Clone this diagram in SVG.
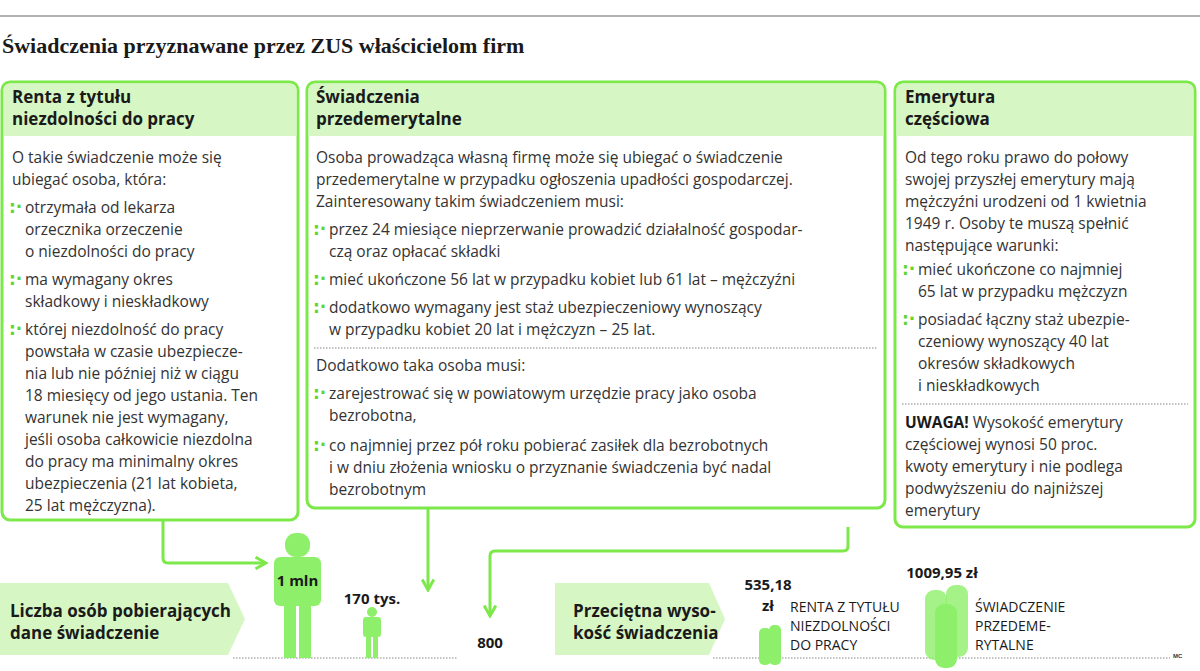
<svg xmlns="http://www.w3.org/2000/svg" width="1200" height="671" viewBox="0 0 1200 671">
<defs>
<style>
.box{fill:#fff;stroke:#7de84a;stroke-width:3}
.hd{fill:#d6f7c4}
.h{font-family:"Open Sans","Liberation Sans",sans-serif;font-weight:bold;font-size:17px;fill:#1a1a1a}
.t{font-family:"Open Sans","Liberation Sans",sans-serif;font-size:15.5px;fill:#333}
.b{fill:#5fd62a;font-family:"DejaVu Sans",sans-serif;font-weight:bold;font-size:17px}
.con{fill:none;stroke:#7de84a;stroke-width:3}
.dot{stroke:#888;stroke-width:1.2;stroke-dasharray:1.5 1.5}
.fig{fill:#8ef06a}
.num{font-family:"Open Sans","Liberation Sans",sans-serif;font-weight:bold;font-size:15px;fill:#1a1a1a}
.lab{font-family:"Open Sans","Liberation Sans",sans-serif;font-size:14px;fill:#1a1a1a}
</style>
<marker id="ah" viewBox="0 0 12 12" refX="10" refY="6" markerWidth="14" markerHeight="14" markerUnits="userSpaceOnUse" orient="auto"><path d="M1,1 L10,6 L1,11" fill="none" stroke="#7de84a" stroke-width="2.5"/></marker>
</defs>
<rect width="1200" height="671" fill="#fff"/>
<line x1="0" y1="16" x2="1200" y2="16" stroke="#999" stroke-width="1.5"/>
<text x="2" y="53" font-family="Liberation Serif,serif" font-weight="bold" font-size="22" fill="#1a1a1a">Świadczenia przyznawane przez ZUS właścicielom firm</text>

<g id="connectors">
<path class="con" d="M163,520 V558 Q163,563 168,563 H266" marker-end="url(#ah)"/>
<path class="con" d="M428,508 V590" marker-end="url(#ah)"/>
<path class="con" d="M848,527 V546 Q848,551 843,551 H495 Q490,551 490,556 V616" marker-end="url(#ah)"/>
</g>

<g id="box1">
<rect class="box" x="2" y="82" width="296" height="438" rx="8"/>
<path class="hd" d="M3.5,90 Q3.5,83.5 10,83.5 H290 Q296.5,83.5 296.5,90 V136 H3.5Z"/>
<text class="h" x="12" y="103">Renta z tytułu</text>
<text class="h" x="12" y="125">niezdolności do pracy</text>
<text class="t" x="12" y="163">O takie świadczenie może się</text>
<text class="t" x="12" y="185">ubiegać osoba, która:</text>
<text class="b" x="9" y="213">:·</text>
<text class="t" x="25" y="213">otrzymała od lekarza</text>
<text class="t" x="25" y="235">orzecznika orzeczenie</text>
<text class="t" x="25" y="257">o niezdolności do pracy</text>
<text class="b" x="9" y="285">:·</text>
<text class="t" x="25" y="285">ma wymagany okres</text>
<text class="t" x="25" y="307">składkowy i nieskładkowy</text>
<text class="b" x="9" y="335">:·</text>
<text class="t" x="25" y="335">której niezdolność do pracy</text>
<text class="t" x="25" y="357">powstała w czasie ubezpiecze-</text>
<text class="t" x="25" y="379">nia lub nie później niż w ciągu</text>
<text class="t" x="25" y="401">18 miesięcy od jego ustania. Ten</text>
<text class="t" x="25" y="423">warunek nie jest wymagany,</text>
<text class="t" x="25" y="445">jeśli osoba całkowicie niezdolna</text>
<text class="t" x="25" y="467">do pracy ma minimalny okres</text>
<text class="t" x="25" y="489">ubezpieczenia (21 lat kobieta,</text>
<text class="t" x="25" y="511">25 lat mężczyzna).</text>
</g>

<g id="box2">
<rect class="box" x="307" y="82" width="578" height="426" rx="8"/>
<path class="hd" d="M308.5,90 Q308.5,83.5 315,83.5 H877 Q883.5,83.5 883.5,90 V136 H308.5Z"/>
<text class="h" x="316" y="103">Świadczenia</text>
<text class="h" x="316" y="125">przedemerytalne</text>
<text class="t" x="316" y="163">Osoba prowadząca własną firmę może się ubiegać o świadczenie</text>
<text class="t" x="316" y="185">przedemerytalne w przypadku ogłoszenia upadłości gospodarczej.</text>
<text class="t" x="316" y="207">Zainteresowany takim świadczeniem musi:</text>
<text class="b" x="313" y="235">:·</text>
<text class="t" x="329" y="235">przez 24 miesiące nieprzerwanie prowadzić działalność gospodar-</text>
<text class="t" x="329" y="257">czą oraz opłacać składki</text>
<text class="b" x="313" y="285">:·</text>
<text class="t" x="329" y="285">mieć ukończone 56 lat w przypadku kobiet lub 61 lat – mężczyźni</text>
<text class="b" x="313" y="313">:·</text>
<text class="t" x="329" y="313">dodatkowo wymagany jest staż ubezpieczeniowy wynoszący</text>
<text class="t" x="329" y="335">w przypadku kobiet 20 lat i mężczyzn – 25 lat.</text>
<line class="dot" x1="314" y1="348" x2="878" y2="348"/>
<text class="t" x="316" y="371">Dodatkowo taka osoba musi:</text>
<text class="b" x="313" y="399">:·</text>
<text class="t" x="329" y="399">zarejestrować się w powiatowym urzędzie pracy jako osoba</text>
<text class="t" x="329" y="421">bezrobotna,</text>
<text class="b" x="313" y="451">:·</text>
<text class="t" x="329" y="451">co najmniej przez pół roku pobierać zasiłek dla bezrobotnych</text>
<text class="t" x="329" y="473">i w dniu złożenia wniosku o przyznanie świadczenia być nadal</text>
<text class="t" x="329" y="495">bezrobotnym</text>
</g>

<g id="box3">
<rect class="box" x="895" y="82" width="300" height="445" rx="8"/>
<path class="hd" d="M896.5,90 Q896.5,83.5 903,83.5 H1187 Q1193.5,83.5 1193.5,90 V136 H896.5Z"/>
<text class="h" x="905" y="103">Emerytura</text>
<text class="h" x="905" y="125">częściowa</text>
<text class="t" x="905" y="163">Od tego roku prawo do połowy</text>
<text class="t" x="905" y="185">swojej przyszłej emerytury mają</text>
<text class="t" x="905" y="207">mężczyźni urodzeni od 1 kwietnia</text>
<text class="t" x="905" y="229">1949 r. Osoby te muszą spełnić</text>
<text class="t" x="905" y="251">następujące warunki:</text>
<text class="b" x="902" y="275">:·</text>
<text class="t" x="918" y="275">mieć ukończone co najmniej</text>
<text class="t" x="918" y="297">65 lat w przypadku mężczyzn</text>
<text class="b" x="902" y="325">:·</text>
<text class="t" x="918" y="325">posiadać łączny staż ubezpie-</text>
<text class="t" x="918" y="347">czeniowy wynoszący 40 lat</text>
<text class="t" x="918" y="369">okresów składkowych</text>
<text class="t" x="918" y="391">i nieskładkowych</text>
<line class="dot" x1="902" y1="404" x2="1188" y2="404"/>
<text class="t" x="905" y="428"><tspan font-weight="bold" fill="#1a1a1a">UWAGA!</tspan> Wysokość emerytury</text>
<text class="t" x="905" y="450">częściowej wynosi 50 proc.</text>
<text class="t" x="905" y="472">kwoty emerytury i nie podlega</text>
<text class="t" x="905" y="494">podwyższeniu do najniższej</text>
<text class="t" x="905" y="516">emerytury</text>
</g>

<g id="label-count">
<path d="M0,583 H228 L245,619 L228,655 H0Z" fill="#d6f7c4"/>
<text class="h" x="10" y="617">Liczba osób pobierających</text>
<text class="h" x="10" y="639">dane świadczenie</text>
</g>
<line class="dot" x1="233" y1="658" x2="457" y2="658"/>

<g id="fig-1mln">
<rect class="fig" x="285" y="533" width="25" height="24" rx="11"/>
<rect class="fig" x="274" y="557" width="47" height="49" rx="6"/>
<rect class="fig" x="284" y="600" width="12" height="58"/>
<rect class="fig" x="299" y="600" width="12" height="58"/>
<text class="num" x="297.5" y="586" text-anchor="middle">1 mln</text>
</g>
<g id="fig-170">
<rect class="fig" x="367" y="607" width="10" height="10" rx="5"/>
<rect class="fig" x="363" y="617" width="18" height="20" rx="3"/>
<rect class="fig" x="366" y="635" width="5" height="23"/>
<rect class="fig" x="373" y="635" width="5" height="23"/>
<text class="num" x="372" y="604" text-anchor="middle">170 tys.</text>
</g>
<g id="fig-800">
<text class="num" x="490" y="648" text-anchor="middle">800</text>
</g>

<g id="label-amount">
<path d="M555,583 H709 L725,619 L709,655 H555Z" fill="#d6f7c4"/>
<text class="h" x="573" y="617">Przeciętna wyso-</text>
<text class="h" x="573" y="639">kość świadczenia</text>
</g>
<line class="dot" x1="713" y1="658" x2="1170" y2="658"/>
<text x="1173" y="658" font-family="Liberation Sans,sans-serif" font-size="6" font-weight="bold" fill="#333">MC</text>

<g id="coins-renta">
<rect class="fig" x="759" y="628" width="12" height="37" rx="5"/>
<rect class="fig" x="769" y="625" width="12" height="40" rx="5"/>
<text class="num" x="768" y="590" text-anchor="middle">535,18</text>
<text class="num" x="768" y="611" text-anchor="middle">zł</text>
<text class="lab" x="790" y="612">RENTA Z TYTUŁU</text>
<text class="lab" x="790" y="631">NIEZDOLNOŚCI</text>
<text class="lab" x="790" y="650">DO PRACY</text>
</g>
<g id="coins-przed">
<rect class="fig" x="925" y="590" width="22" height="70" rx="9" opacity="0.8"/>
<rect class="fig" x="946" y="585" width="22" height="72" rx="9" opacity="0.8"/>
<rect class="fig" x="935" y="604" width="22" height="64" rx="9"/>
<text class="num" x="942" y="578" text-anchor="middle">1009,95 zł</text>
<text class="lab" x="975" y="612">ŚWIADCZENIE</text>
<text class="lab" x="975" y="631">PRZEDEME-</text>
<text class="lab" x="975" y="650">RYTALNE</text>
</g>
</svg>
